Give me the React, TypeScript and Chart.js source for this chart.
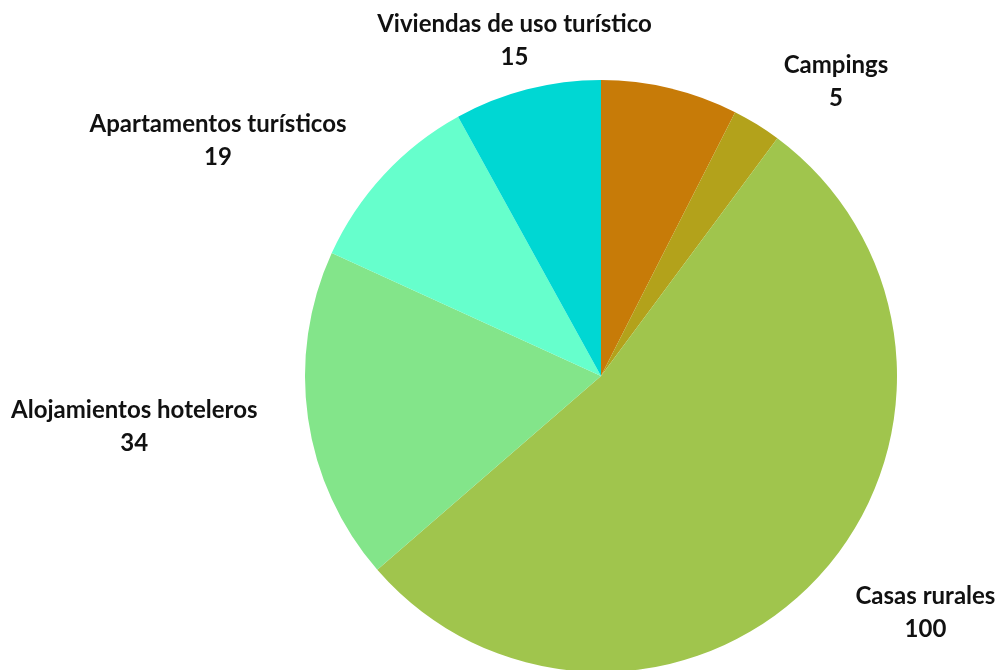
import React, { useEffect, useRef } from "react";
import { Chart, registerables } from "chart.js";

Chart.register(...registerables);

const categories: string[] = [
  "",
  "Campings",
  "Casas rurales",
  "Alojamientos hoteleros",
  "Apartamentos turísticos",
  "Viviendas de uso turístico",
];
const values: number[] = [14, 5, 100, 34, 19, 15];
const colors: string[] = ["#C77B08", "#B3A21B", "#A0C54D", "#83E58A", "#66FFCC", "#00D7D3"];

const labelPlugin = {
  id: "outsideLabels",
  afterDatasetsDraw(chart: any) {
    const ctx = chart.ctx as CanvasRenderingContext2D;
    const meta = chart.getDatasetMeta(0);
    const data = chart.data.datasets[0].data as number[];
    const labels = chart.data.labels as string[];
    ctx.save();
    ctx.font = "bold 24px Lato";
    ctx.fillStyle = "#111111";
    ctx.textBaseline = "middle";
    meta.data.forEach((arc: any, i: number) => {
      const name = labels[i];
      if (!name) return;
      const p = arc.getProps(["x", "y", "startAngle", "endAngle", "outerRadius"], true);
      const mid = (p.startAngle + p.endAngle) / 2;
      const dx = Math.cos(mid);
      const dy = Math.sin(mid);
      const R = p.outerRadius + 51;
      const ax = p.x + R * dx;
      const ay = p.y + R * dy + 1;
      const valueText = String(data[i]);
      const w = Math.max(ctx.measureText(name).width, ctx.measureText(valueText).width);
      let cx: number;
      if (Math.abs(dx) < 0.35) cx = ax;
      else if (dx > 0) cx = ax + w / 2;
      else cx = ax - w / 2;
      ctx.textAlign = "center";
      ctx.fillText(name, cx, ay - 16.5);
      ctx.fillText(valueText, cx, ay + 16.5);
    });
    ctx.restore();
  },
};

export default function App() {
  const ref = useRef<HTMLCanvasElement | null>(null);
  useEffect(() => {
    if (!ref.current) return;
    const chart = new Chart(ref.current, {
      type: "pie",
      data: {
        labels: categories,
        datasets: [
          {
            data: values,
            backgroundColor: colors,
            borderWidth: 0,
            radius: 296,
          } as any,
        ],
      },
      options: {
        responsive: false,
        animation: false,
        devicePixelRatio: 1,
        layout: { padding: { left: 203, right: 0, top: 82, bottom: 0 } },
        plugins: {
          legend: { display: false },
          tooltip: { enabled: false },
        },
      },
      plugins: [labelPlugin],
    });
    return () => chart.destroy();
  }, []);
  return (
    <div style={{ position: "fixed", left: 0, top: 0, width: 999, height: 670, background: "#fff" }}>
      <canvas ref={ref} width={999} height={670} style={{ width: 999, height: 670 }} />
    </div>
  );
}
